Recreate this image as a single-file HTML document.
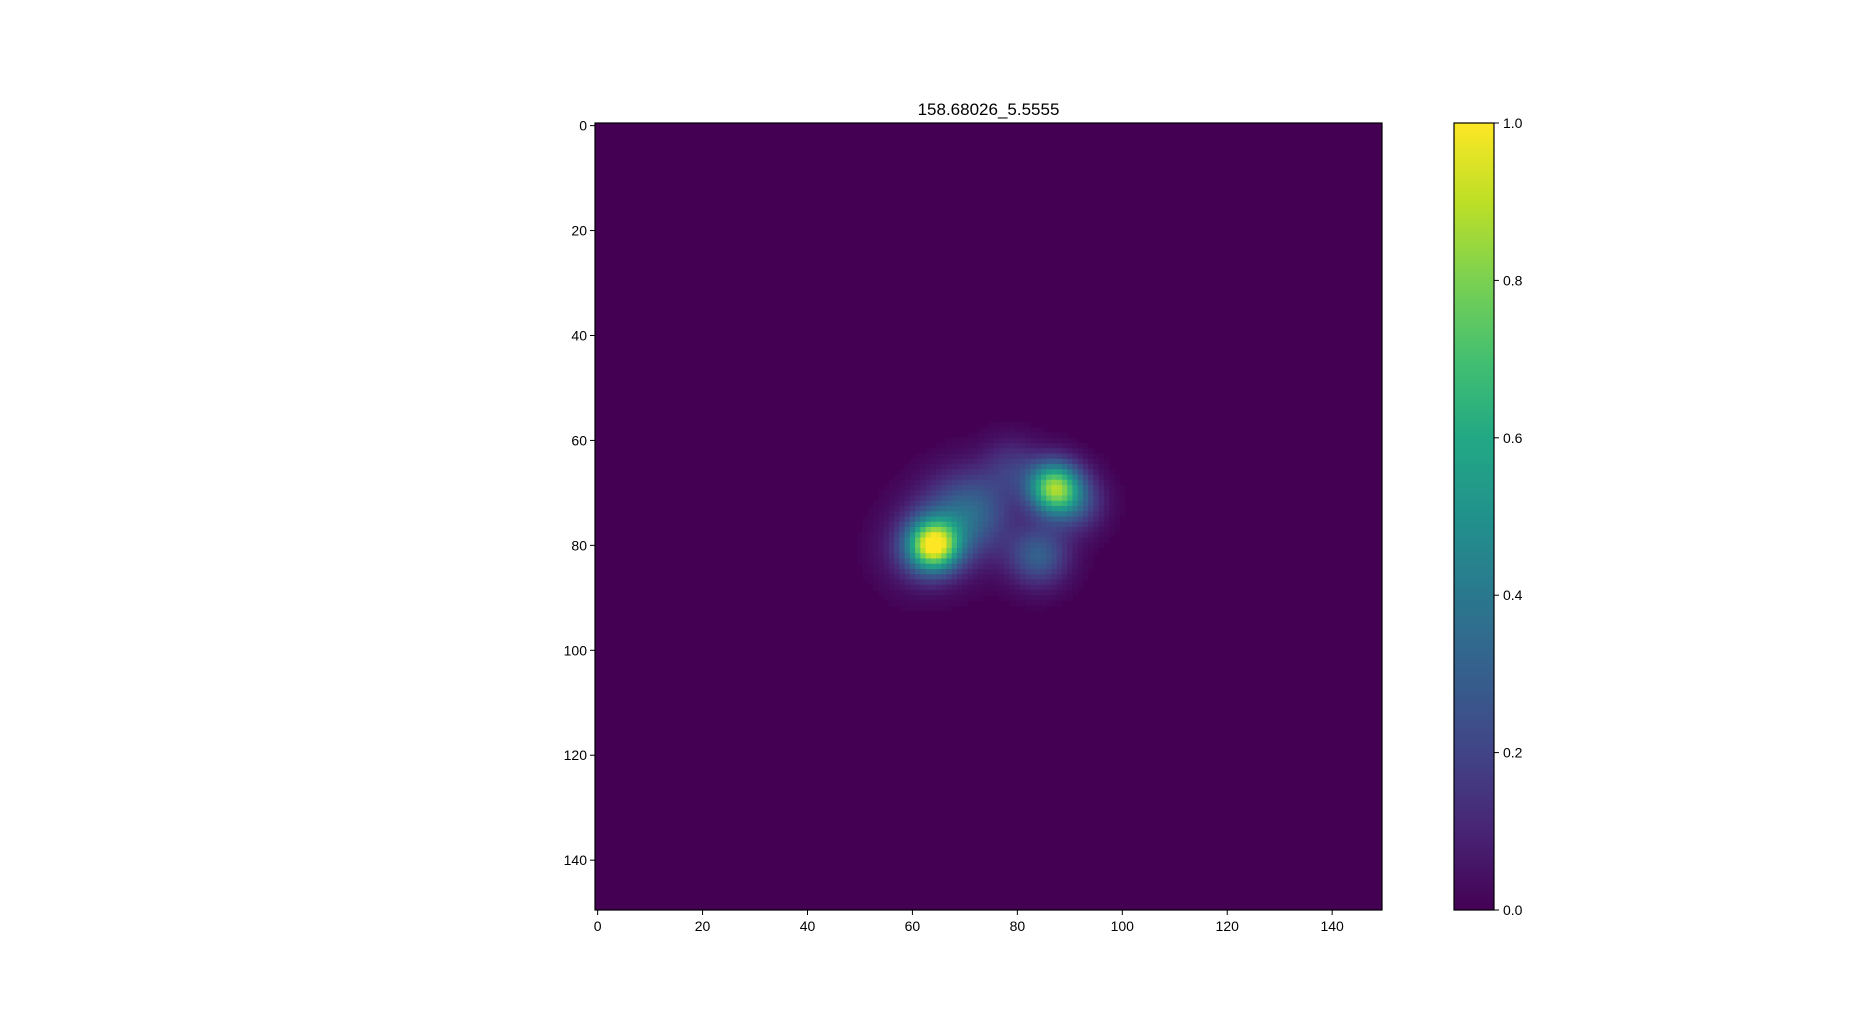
<!DOCTYPE html>
<html><head><meta charset="utf-8"><style>
html,body{margin:0;padding:0;background:#fff;}
svg text{font-family:"Liberation Sans","DejaVu Sans",sans-serif;fill:#000;}
</style></head><body>
<svg id="chart" width="1855" height="1022" xmlns="http://www.w3.org/2000/svg">
<text x="988.5" y="115" font-size="17" text-anchor="middle">158.68026_5.5555</text>
<g id="cells"></g>
<g id="axes"></g>
<g id="cbar"></g>
</svg>
<script>
const gridSize = 150;
const blobX = [64, 87, 72, 84, 79, 68, 91, 61];
const blobY = [80, 69, 73, 82, 65, 76, 72, 81];
const blobAmp = [0.86, 0.78, 0.2, 0.3, 0.14, 0.2, 0.22, 0.12];
const blobSigma = [3.3, 3.4, 5.2, 3.9, 3.8, 5.8, 3.8, 5.0];
const xTicks = [0, 20, 40, 60, 80, 100, 120, 140];
const yTicks = [0, 20, 40, 60, 80, 100, 120, 140];
const cbTicks = [0.0, 0.2, 0.4, 0.6, 0.8, 1.0];

const NS = "http://www.w3.org/2000/svg";
const L = 595, T = 123, W = 787, H = 787;
const cell = W / gridSize;
function xScale(v){ return L + (v + 0.5) * cell; }
function yScale(v){ return T + (v + 0.5) * cell; }
const cbL = 1454, cbW = 40;
function cbScale(v){ return T + H - v * H; }

const vir = [[68,1,84],[72,36,117],[65,68,135],[53,95,141],[42,120,142],[33,145,140],[34,168,132],[68,191,112],[122,209,81],[189,223,38],[253,231,37]];
function viridis(t){
  t = Math.max(0, Math.min(1, t));
  const p = t * (vir.length - 1), i = Math.min(Math.floor(p), vir.length - 2), f = p - i;
  const c = vir[i].map((a, k) => Math.round(a + (vir[i+1][k] - a) * f));
  return `rgb(${c[0]},${c[1]},${c[2]})`;
}
function mk(tag, attrs, parent){
  const e = document.createElementNS(NS, tag);
  for (const k in attrs) e.setAttribute(k, attrs[k]);
  parent.appendChild(e); return e;
}

const cells = document.getElementById('cells');
const bg = mk('rect', {x:L, y:T, width:W, height:H, fill:viridis(0)}, cells);


for (let r = 0; r < gridSize; r++) {
  for (let c = 0; c < gridSize; c++) {
    let v = 0;
    for (let b = 0; b < blobX.length; b++) {
      const dx = c - blobX[b], dy = r - blobY[b];
      v += blobAmp[b] * Math.exp(-(dx*dx + dy*dy) / (2 * blobSigma[b] * blobSigma[b]));
    }
    if (v < 0.01) continue;
    const rc = mk('rect', {x:(xScale(c) - cell/2).toFixed(2), y:(yScale(r) - cell/2).toFixed(2), width:(cell+0.3).toFixed(2), height:(cell+0.3).toFixed(2), fill:viridis(Math.min(v,1))}, cells);
    
    
  }
}

const axes = document.getElementById('axes');
const frame = mk('rect', {x:L, y:T, width:W, height:H, fill:'none', stroke:'#000', 'stroke-width':1.2}, axes);


xTicks.forEach(t => {
  const x = xScale(t);
  const tk = mk('line', {x1:x, x2:x, y1:T+H, y2:T+H+5, stroke:'#000', 'stroke-width':1}, axes);
  
  
  const tx = mk('text', {x:x, y:T+H+21, 'font-size':14, 'text-anchor':'middle'}, axes);
  tx.textContent = t;
  
  
});
yTicks.forEach(t => {
  const y = yScale(t);
  const tk = mk('line', {x1:L-5, x2:L, y1:y, y2:y, stroke:'#000', 'stroke-width':1}, axes);
  
  
  const tx = mk('text', {x:L-8, y:y+5, 'font-size':14, 'text-anchor':'end'}, axes);
  tx.textContent = t;
  
  
});

const cbar = document.getElementById('cbar');
const defs = mk('defs', {}, cbar);
const grad = mk('linearGradient', {id:'vg', x1:0, y1:1, x2:0, y2:0}, defs);
for (let i = 0; i <= 20; i++) mk('stop', {offset:(i/20), 'stop-color':viridis(i/20)}, grad);
const cbr = mk('rect', {x:cbL, y:T, width:cbW, height:H, fill:'url(#vg)', stroke:'#000', 'stroke-width':1.2}, cbar);


cbTicks.forEach(t => {
  const y = cbScale(t);
  const tk = mk('line', {x1:cbL+cbW, x2:cbL+cbW+5, y1:y, y2:y, stroke:'#000', 'stroke-width':1}, cbar);
  
  
  const tx = mk('text', {x:cbL+cbW+9, y:y+5, 'font-size':14}, cbar);
  tx.textContent = t.toFixed(1);
  
  
});
</script>
</body></html>
